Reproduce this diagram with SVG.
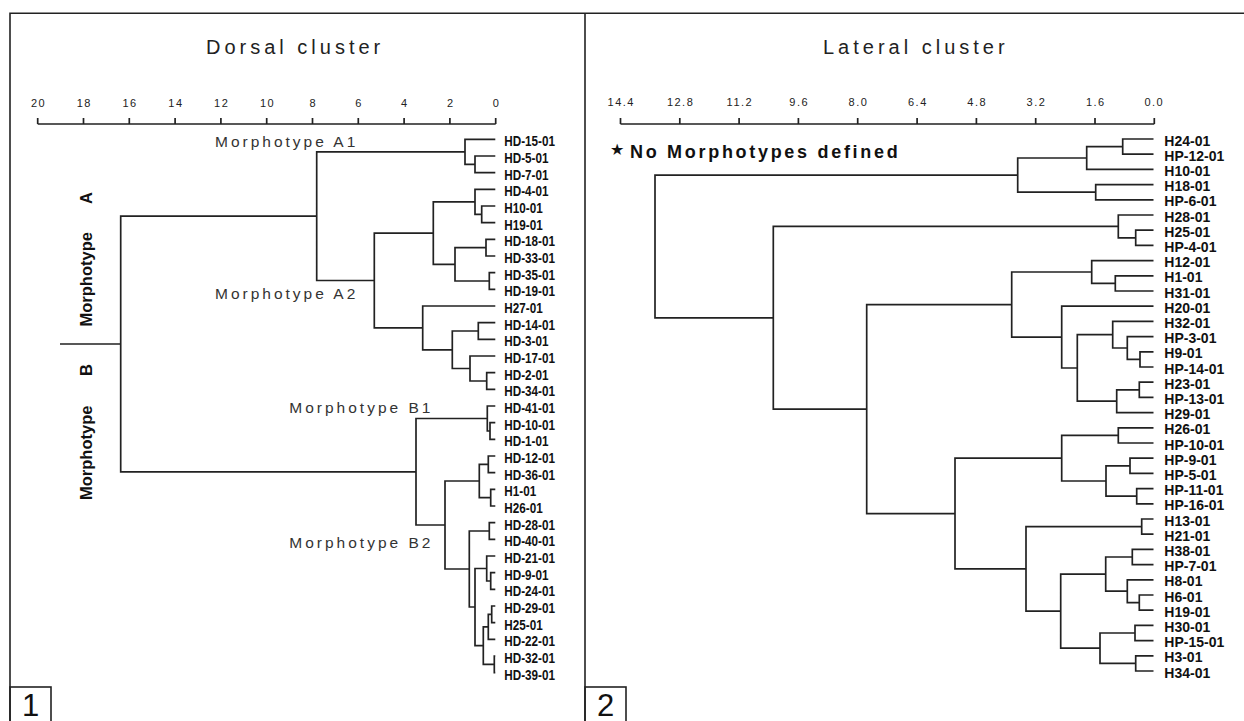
<svg xmlns="http://www.w3.org/2000/svg" width="1244" height="721" viewBox="0 0 1244 721">
<style>
.frame{fill:none;stroke:#222;stroke-width:1.6}
.ln{fill:none;stroke:#222;stroke-width:1.7;stroke-linejoin:miter}
.ax{font-family:"Liberation Sans",Arial,sans-serif;font-size:11px;fill:#222;letter-spacing:1.5px;text-anchor:middle}
.ttl{font-family:"Liberation Sans",Arial,sans-serif;font-size:20px;fill:#222;letter-spacing:4px}
.mt{font-family:"Liberation Sans",Arial,sans-serif;font-size:15.5px;fill:#333;letter-spacing:3px}
.big{font-family:"Liberation Sans",Arial,sans-serif;font-size:16.5px;font-weight:bold;fill:#111}
.lbl{font-family:"Liberation Sans",Arial,sans-serif;font-size:14px;font-weight:bold;fill:#111}
.num{font-family:"Liberation Sans",Arial,sans-serif;font-size:31px;fill:#111;text-anchor:middle}
.note{font-family:"Liberation Sans",Arial,sans-serif;font-size:18px;font-weight:bold;fill:#111;letter-spacing:2.7px}
</style>
<rect width="1244" height="721" fill="#fff"/>
<g id="frame">
<path class="frame" d="M10 721 V13.3 H1244 M585 13.3 V721"/>
<rect class="frame" x="10" y="687" width="41" height="40"/>
<rect class="frame" x="585" y="687" width="41" height="40"/>
<text class="num" x="30.5" y="716">1</text>
<text class="num" x="605.5" y="716">2</text>
</g>
<g id="titles">
<text class="ttl" x="206" y="54.3">Dorsal cluster</text>
<text class="ttl" x="823" y="54.3">Lateral cluster</text>
</g>
<g id="axis-dorsal">
<path class="ln" d="M37.7 124 H495.7 M37.7 124 V118 M83.5 124 V118 M129.3 124 V118 M175.1 124 V118 M220.9 124 V118 M266.7 124 V118 M312.5 124 V118 M358.3 124 V118 M404.1 124 V118 M449.9 124 V118 M495.7 124 V118"/>
<text class="ax" x="38.5" y="107">20</text>
<text class="ax" x="84.3" y="107">18</text>
<text class="ax" x="130.1" y="107">16</text>
<text class="ax" x="175.9" y="107">14</text>
<text class="ax" x="221.7" y="107">12</text>
<text class="ax" x="267.5" y="107">10</text>
<text class="ax" x="313.3" y="107">8</text>
<text class="ax" x="359.1" y="107">6</text>
<text class="ax" x="404.9" y="107">4</text>
<text class="ax" x="450.7" y="107">2</text>
<text class="ax" x="496.5" y="107">0</text>
</g>
<g id="axis-lateral">
<path class="ln" d="M620.5 124 H1154.3 M620.5 124 V118 M679.8 124 V118 M739.1 124 V118 M798.4 124 V118 M857.7 124 V118 M917.1 124 V118 M976.4 124 V118 M1035.7 124 V118 M1095 124 V118 M1154.3 124 V118"/>
<text class="ax" x="621.3" y="105.5">14.4</text>
<text class="ax" x="680.6" y="105.5">12.8</text>
<text class="ax" x="739.9" y="105.5">11.2</text>
<text class="ax" x="799.2" y="105.5">9.6</text>
<text class="ax" x="858.5" y="105.5">8.0</text>
<text class="ax" x="917.9" y="105.5">6.4</text>
<text class="ax" x="977.2" y="105.5">4.8</text>
<text class="ax" x="1036.5" y="105.5">3.2</text>
<text class="ax" x="1095.8" y="105.5">1.6</text>
<text class="ax" x="1154.3" y="105.5">0.0</text>
</g>
<g id="connectors">
<path class="ln" d="M495.3 156 H475 V172.6 H495.3 M495.3 139.3 H465 V164.3 H475 M495.3 206 H481.7 V222.7 H495.3 M495.3 189.3 H475 V214.3 H481.7 M495.3 239.3 H486 V256 H495.3 M495.3 272.7 H489.3 V289.3 H495.3 M486 247.7 H455 V281 H489.3 M475 201.8 H433.3 V264.3 H455 M495.3 322.7 H478.3 V339.3 H495.3 M495.3 372.7 H486.7 V389.3 H495.3 M495.3 356 H470 V381 H486.7 M478.3 331 H452.3 V368.5 H470 M495.3 306 H422.7 V349.8 H452.3 M433.3 233.1 H374.3 V327.9 H422.7 M465 151.8 H316.7 V280.5 H374.3 M495.3 422.7 H490 V439.3 H495.3 M495.3 406 H487.3 V431 H490 M495.3 456 H488.3 V472.7 H495.3 M495.3 489.3 H490.7 V506 H495.3 M488.3 464.3 H479.3 V497.7 H490.7 M495.3 522.7 H489.3 V539.3 H495.3 M495.3 572.7 H490.7 V589.3 H495.3 M495.3 556 H486.7 V581 H490.7 M495.3 606 H491.7 V622.7 H495.3 M491.7 614.3 H488.3 V639.3 H495.3 M495.3 656 H494.3 V672.7 H495.3 M488.3 626.8 H483.3 V664.3 H494.3 M486.7 568.5 H475 V645.6 H483.3 M489.3 531 H469.3 V607 H475 M479.3 481 H445 V569 H469.3 M487.3 418.5 H416 V525 H445 M316.7 216.2 H120.7 V471.8 H416 M60 344 H120.7"/>
<path class="ln" d="M1153.5 139 H1122.7 V154.2 H1153.5 M1122.7 146.6 H1086.7 V169.4 H1153.5 M1153.5 184.6 H1095.7 V199.8 H1153.5 M1086.7 158 H1017.7 V192.2 H1095.7 M1153.5 230.2 H1135.7 V245.4 H1153.5 M1153.5 215 H1118.3 V237.8 H1135.7 M1153.5 275.8 H1115.3 V291 H1153.5 M1153.5 260.6 H1091.7 V283.4 H1115.3 M1153.5 351.8 H1140 V367 H1153.5 M1153.5 336.6 H1127.3 V359.4 H1140 M1153.5 321.4 H1112.7 V348 H1127.3 M1153.5 382.2 H1139.3 V397.4 H1153.5 M1139.3 389.8 H1116.7 V412.6 H1153.5 M1112.7 334.7 H1077.3 V401.2 H1116.7 M1153.5 306.2 H1061.7 V368 H1077.3 M1091.7 272 H1011.7 V337.1 H1061.7 M1153.5 427.8 H1118.3 V443 H1153.5 M1153.5 458.2 H1130 V473.4 H1153.5 M1153.5 488.6 H1136.7 V503.8 H1153.5 M1130 465.8 H1106 V496.2 H1136.7 M1118.3 435.4 H1061.7 V481 H1106 M1153.5 519 H1141.7 V534.2 H1153.5 M1153.5 549.4 H1132.3 V564.6 H1153.5 M1153.5 595 H1139.3 V610.2 H1153.5 M1153.5 579.8 H1127.3 V602.6 H1139.3 M1132.3 557 H1105.7 V591.2 H1127.3 M1153.5 625.4 H1135 V640.6 H1153.5 M1153.5 655.8 H1135.7 V671 H1153.5 M1135 633 H1100 V663.4 H1135.7 M1105.7 574.1 H1060.7 V648.2 H1100 M1141.7 526.6 H1026 V611.2 H1060.7 M1061.7 458.2 H955 V568.9 H1026 M1011.7 304.6 H866.7 V513.6 H955 M1118.3 226.4 H773.3 V409.1 H866.7 M1017.7 175.1 H655 V317.8 H773.3"/>
</g>
<g id="dorsal-annotations">
<text class="mt" x="215" y="146.5">Morphotype A1</text>
<text class="mt" x="215" y="299">Morphotype A2</text>
<text class="mt" x="289.3" y="413.3">Morphotype B1</text>
<text class="mt" x="289.3" y="548.3">Morphotype B2</text>
<text class="big" transform="translate(92 326.5) rotate(-90)">Morphotype <tspan dx="24">A</tspan></text>
<text class="big" transform="translate(92 500) rotate(-90)">Morphotype <tspan dx="25">B</tspan></text>
</g>
<g id="lateral-note">
<text x="610" y="155" style="font-family:'DejaVu Sans',sans-serif;font-size:16px;fill:#111">★</text>
<text class="note" x="630" y="158.3">No Morphotypes defined</text>
</g>
<g id="dorsal-leaves" class="lbl" transform="translate(504.3 0) scale(0.836 1)">
<g id="d-HD-15-01"><text class="lbl" x="0" y="146.3">HD-15-01</text></g>
<g id="d-HD-5-01"><text class="lbl" x="0" y="163">HD-5-01</text></g>
<g id="d-HD-7-01"><text class="lbl" x="0" y="179.6">HD-7-01</text></g>
<g id="d-HD-4-01"><text class="lbl" x="0" y="196.3">HD-4-01</text></g>
<g id="d-H10-01"><text class="lbl" x="0" y="213">H10-01</text></g>
<g id="d-H19-01"><text class="lbl" x="0" y="229.7">H19-01</text></g>
<g id="d-HD-18-01"><text class="lbl" x="0" y="246.3">HD-18-01</text></g>
<g id="d-HD-33-01"><text class="lbl" x="0" y="263">HD-33-01</text></g>
<g id="d-HD-35-01"><text class="lbl" x="0" y="279.7">HD-35-01</text></g>
<g id="d-HD-19-01"><text class="lbl" x="0" y="296.3">HD-19-01</text></g>
<g id="d-H27-01"><text class="lbl" x="0" y="313">H27-01</text></g>
<g id="d-HD-14-01"><text class="lbl" x="0" y="329.7">HD-14-01</text></g>
<g id="d-HD-3-01"><text class="lbl" x="0" y="346.3">HD-3-01</text></g>
<g id="d-HD-17-01"><text class="lbl" x="0" y="363">HD-17-01</text></g>
<g id="d-HD-2-01"><text class="lbl" x="0" y="379.7">HD-2-01</text></g>
<g id="d-HD-34-01"><text class="lbl" x="0" y="396.3">HD-34-01</text></g>
<g id="d-HD-41-01"><text class="lbl" x="0" y="413">HD-41-01</text></g>
<g id="d-HD-10-01"><text class="lbl" x="0" y="429.7">HD-10-01</text></g>
<g id="d-HD-1-01"><text class="lbl" x="0" y="446.3">HD-1-01</text></g>
<g id="d-HD-12-01"><text class="lbl" x="0" y="463">HD-12-01</text></g>
<g id="d-HD-36-01"><text class="lbl" x="0" y="479.7">HD-36-01</text></g>
<g id="d-H1-01"><text class="lbl" x="0" y="496.3">H1-01</text></g>
<g id="d-H26-01"><text class="lbl" x="0" y="513">H26-01</text></g>
<g id="d-HD-28-01"><text class="lbl" x="0" y="529.7">HD-28-01</text></g>
<g id="d-HD-40-01"><text class="lbl" x="0" y="546.3">HD-40-01</text></g>
<g id="d-HD-21-01"><text class="lbl" x="0" y="563">HD-21-01</text></g>
<g id="d-HD-9-01"><text class="lbl" x="0" y="579.7">HD-9-01</text></g>
<g id="d-HD-24-01"><text class="lbl" x="0" y="596.3">HD-24-01</text></g>
<g id="d-HD-29-01"><text class="lbl" x="0" y="613">HD-29-01</text></g>
<g id="d-H25-01"><text class="lbl" x="0" y="629.7">H25-01</text></g>
<g id="d-HD-22-01"><text class="lbl" x="0" y="646.3">HD-22-01</text></g>
<g id="d-HD-32-01"><text class="lbl" x="0" y="663">HD-32-01</text></g>
<g id="d-HD-39-01"><text class="lbl" x="0" y="679.7">HD-39-01</text></g>
</g>
<g id="lateral-leaves">
<g id="l-H24-01"><text class="lbl" x="1164.3" y="145.5">H24-01</text></g>
<g id="l-HP-12-01"><text class="lbl" x="1164.3" y="160.7">HP-12-01</text></g>
<g id="l-H10-01"><text class="lbl" x="1164.3" y="175.9">H10-01</text></g>
<g id="l-H18-01"><text class="lbl" x="1164.3" y="191.1">H18-01</text></g>
<g id="l-HP-6-01"><text class="lbl" x="1164.3" y="206.3">HP-6-01</text></g>
<g id="l-H28-01"><text class="lbl" x="1164.3" y="221.5">H28-01</text></g>
<g id="l-H25-01"><text class="lbl" x="1164.3" y="236.7">H25-01</text></g>
<g id="l-HP-4-01"><text class="lbl" x="1164.3" y="251.9">HP-4-01</text></g>
<g id="l-H12-01"><text class="lbl" x="1164.3" y="267.1">H12-01</text></g>
<g id="l-H1-01"><text class="lbl" x="1164.3" y="282.3">H1-01</text></g>
<g id="l-H31-01"><text class="lbl" x="1164.3" y="297.5">H31-01</text></g>
<g id="l-H20-01"><text class="lbl" x="1164.3" y="312.7">H20-01</text></g>
<g id="l-H32-01"><text class="lbl" x="1164.3" y="327.9">H32-01</text></g>
<g id="l-HP-3-01"><text class="lbl" x="1164.3" y="343.1">HP-3-01</text></g>
<g id="l-H9-01"><text class="lbl" x="1164.3" y="358.3">H9-01</text></g>
<g id="l-HP-14-01"><text class="lbl" x="1164.3" y="373.5">HP-14-01</text></g>
<g id="l-H23-01"><text class="lbl" x="1164.3" y="388.7">H23-01</text></g>
<g id="l-HP-13-01"><text class="lbl" x="1164.3" y="403.9">HP-13-01</text></g>
<g id="l-H29-01"><text class="lbl" x="1164.3" y="419.1">H29-01</text></g>
<g id="l-H26-01"><text class="lbl" x="1164.3" y="434.3">H26-01</text></g>
<g id="l-HP-10-01"><text class="lbl" x="1164.3" y="449.5">HP-10-01</text></g>
<g id="l-HP-9-01"><text class="lbl" x="1164.3" y="464.7">HP-9-01</text></g>
<g id="l-HP-5-01"><text class="lbl" x="1164.3" y="479.9">HP-5-01</text></g>
<g id="l-HP-11-01"><text class="lbl" x="1164.3" y="495.1">HP-11-01</text></g>
<g id="l-HP-16-01"><text class="lbl" x="1164.3" y="510.3">HP-16-01</text></g>
<g id="l-H13-01"><text class="lbl" x="1164.3" y="525.5">H13-01</text></g>
<g id="l-H21-01"><text class="lbl" x="1164.3" y="540.7">H21-01</text></g>
<g id="l-H38-01"><text class="lbl" x="1164.3" y="555.9">H38-01</text></g>
<g id="l-HP-7-01"><text class="lbl" x="1164.3" y="571.1">HP-7-01</text></g>
<g id="l-H8-01"><text class="lbl" x="1164.3" y="586.3">H8-01</text></g>
<g id="l-H6-01"><text class="lbl" x="1164.3" y="601.5">H6-01</text></g>
<g id="l-H19-01"><text class="lbl" x="1164.3" y="616.7">H19-01</text></g>
<g id="l-H30-01"><text class="lbl" x="1164.3" y="631.9">H30-01</text></g>
<g id="l-HP-15-01"><text class="lbl" x="1164.3" y="647.1">HP-15-01</text></g>
<g id="l-H3-01"><text class="lbl" x="1164.3" y="662.3">H3-01</text></g>
<g id="l-H34-01"><text class="lbl" x="1164.3" y="677.5">H34-01</text></g>
</g>
</svg>
